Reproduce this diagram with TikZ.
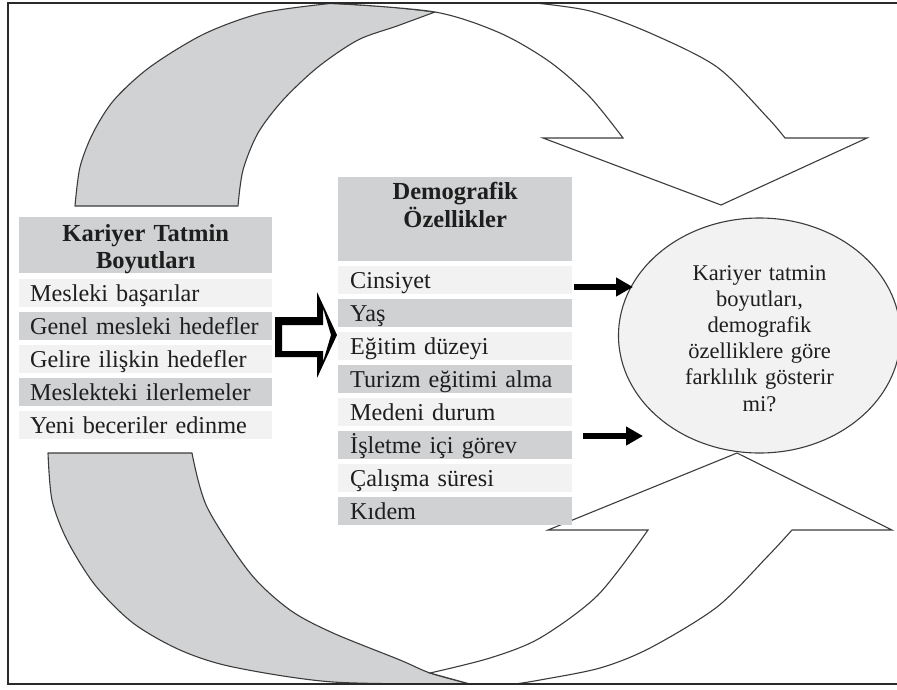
\documentclass[tikz,border=0pt]{standalone}
\usepackage{fontspec}
\setmainfont{Liberation Serif}
\usetikzlibrary{arrows.meta,shapes.geometric}
\definecolor{bandgray}{HTML}{D1D2D4}
\definecolor{cellgray}{HTML}{D0D1D3}
\definecolor{celllight}{HTML}{F2F2F2}
\definecolor{edgec}{HTML}{3C3C3C}
\definecolor{ink}{HTML}{1E1E1E}
\definecolor{framec}{HTML}{2A2A2A}
\newcommand{\nbr}[1]{\mbox{#1}}
\begin{document}
\begin{tikzpicture}[x=1pt,y=-1pt,
  band/.style={fill=bandgray,draw=edgec,line width=1.1pt,line join=round},
  warrow/.style={fill=white,draw=edgec,line width=1.1pt,line join=miter},
  cellbase/.style={anchor=north west,inner xsep=0pt,inner ysep=0pt,text=ink,
    font=\fontsize{24.2}{27.5}\selectfont,text height=21pt,text depth=4pt,
    minimum height=28pt,align=left},
  lcell/.style={cellbase,minimum width=253pt,text width=231pt},
  mcell/.style={cellbase,minimum width=234pt,text width=210pt},
  headbase/.style={anchor=north west,inner sep=0pt,fill=cellgray,text=ink,align=center},
  blackarrow/.style={line width=5.5pt,draw=black,-{Triangle[length=17pt,width=18pt]}}
]
\useasboundingbox (0,0) rectangle (897,689);
\clip (0,0) rectangle (897,689);
\fill[white] (0,0) rectangle (897,689);

% upper gray band
\path[band] plot[smooth] coordinates {(75,206) (80,167) (93,133) (114,100) (150,67) (204,34) (262,13) (330,3.5)}
  -- plot[smooth] coordinates {(330,3.5) (385,6.5) (435,12)}
  -- plot[smooth] coordinates {(435,12) (397,26) (358,40) (318,67) (283,100) (258,133) (243,170) (238,206)}
  -- cycle;

% upper white arrow
\path[warrow] plot[smooth] coordinates {(330,3) (435,12) (500,33) (550,62) (590,97) (623,138)}
  -- (543,138) -- (721,205) -- (867,138) -- (785,138)
  -- plot[smooth] coordinates {(785,138) (767,117) (717,67) (650,33) (590,11) (535,3)}
  -- cycle;

% lower gray band
\path[band] plot[smooth] coordinates {(48,453) (52,500) (67,540) (95,585) (133,623) (180,650) (233,667) (333,682) (470,684)}
  -- plot[smooth] coordinates {(470,684) (430,673) (400,660) (333,633) (290,610) (250,573) (207,507) (192,453)}
  -- cycle;

% lower white arrow
\path[warrow] plot[smooth] coordinates {(430,673) (490,658) (540,638) (598,595) (648,530)}
  -- (548,530) -- (737,453) -- (892,530) -- (792,530)
  -- plot[smooth] coordinates {(792,530) (767,557) (717,607) (650,648) (600,668) (540,680) (515,684)}
  -- (470,684) -- cycle;

% left table
\node[headbase,minimum width=253pt,text width=253pt,minimum height=56pt,
  font=\bfseries\fontsize{24.5}{27.5}\selectfont,text height=24pt,text depth=32pt]
  (lh) at (19,217) {Kariyer Tatmin\\Boyutları};
\node[lcell,fill=celllight] (l1) at (19,279) {\nbr{Mesleki başarılar}};
\node[lcell,fill=cellgray]  (l2) at (19,312) {\nbr{Genel mesleki hedefler}};
\node[lcell,fill=celllight] (l3) at (19,345) {\nbr{Gelire ilişkin hedefler}};
\node[lcell,fill=cellgray]  (l4) at (19,378) {\nbr{Meslekteki ilerlemeler}};
\node[lcell,fill=celllight] (l5) at (19,411) {\nbr{Yeni beceriler edinme}};

% middle table
\node[headbase,minimum width=234pt,text width=234pt,minimum height=84pt,
  font=\bfseries\fontsize{24.5}{28}\selectfont,text height=22.5pt,text depth=61.5pt]
  (mh) at (338,177) {Demografik\\Özellikler};
\node[mcell,fill=celllight] (m1) at (338,266) {\nbr{Cinsiyet}};
\node[mcell,fill=cellgray]  (m2) at (338,299) {\nbr{Yaş}};
\node[mcell,fill=celllight] (m3) at (338,332) {\nbr{Eğitim düzeyi}};
\node[mcell,fill=cellgray]  (m4) at (338,365) {\nbr{Turizm eğitimi alma}};
\node[mcell,fill=celllight] (m5) at (338,398) {\nbr{Medeni durum}};
\node[mcell,fill=cellgray]  (m6) at (338,431) {\nbr{İşletme içi görev}};
\node[mcell,fill=celllight] (m7) at (338,464) {\nbr{Çalışma süresi}};
\node[mcell,fill=cellgray]  (m8) at (338,497) {\nbr{Kıdem}};

% hollow block arrow
\fill[black,even odd rule]
  (275,317) -- (317,317) -- (317,292) -- (337,335) -- (317,378) -- (317,357) -- (275,357) -- cycle
  (282,325) -- (323,325) -- (323,308) -- (331,335) -- (323,362) -- (323,351) -- (282,351) -- cycle;

% ellipse
\node[ellipse,fill=celllight,draw=edgec,line width=1.1pt,minimum width=282pt,minimum height=235pt,
  inner sep=0pt,text width=180pt,align=center,text=ink,
  font=\fontsize{22.5}{26.2}\selectfont,text height=16pt,text depth=127pt]
  (q) at (759.5,335.5) {Kariyer tatmin\\boyutları,\\demografik\\özelliklere göre\\farklılık gösterir\\mi?};

% black arrows
\coordinate (a1s) at (574,287);
\coordinate (a1e) at (633,287);
\coordinate (a2s) at (583,436);
\coordinate (a2e) at (643,436);
\draw[blackarrow] (a1s) -- (a1e);
\draw[blackarrow] (a2s) -- (a2e);

% frame
\draw[line width=2pt,draw=framec] (897,3) -- (7.5,3) -- (7.5,684) -- (897,684);
\end{tikzpicture}
\end{document}
